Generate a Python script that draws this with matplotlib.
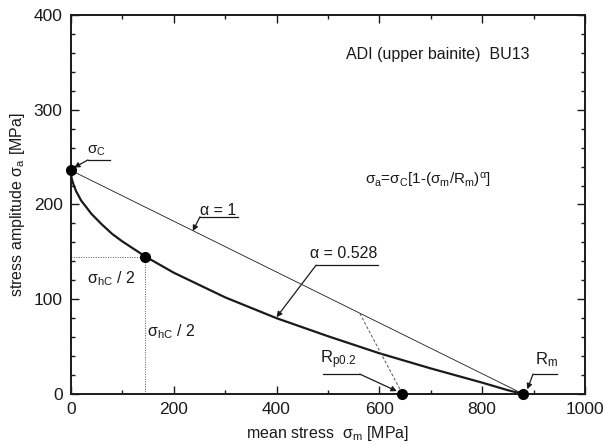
''' haigh diagram, ADI upper bainite BU13 '''
import matplotlib
matplotlib.use('Agg')
import matplotlib.pyplot as plt
from matplotlib.ticker import MultipleLocator

plt.rcParams['font.family'] = ['Liberation Sans', 'DejaVu Sans']
plt.rcParams['mathtext.fontset'] = 'custom'
plt.rcParams['mathtext.rm'] = 'Liberation Sans'
plt.rcParams['mathtext.it'] = 'Liberation Sans:italic'
plt.rcParams['mathtext.sf'] = 'Liberation Sans'

# values
sigma_c = 236          # fatigue strength, fully reversed
r_m = 880              # tensile strength
r_p02 = 645            # yield strength
sigma_hc2 = 145        # pulsating point (sigma_m = sigma_a)
alpha = 0.528

# alpha = 0.528 curve, read point by point
curve_m = [0, 1, 2, 5, 10, 20, 40, 60, 80, 100, 145, 200, 250, 300,
           400, 500, 600, 700, 800, 850, 880]
curve_a = [236, 229, 226, 221, 214, 204, 190, 179, 169, 161, 145, 128,
           115, 102, 80, 61, 43, 27, 12, 4, 0]

# alpha = 1 straight line (Goodman)
line_m = [0, r_m]
line_a = [sigma_c, 0]

# point on the straight line where the dashed yield line starts
yield_m = [562, r_p02]
yield_a = [85, 0]

INK = '#1a1a1a'
SIG = r'$\mathrm{σ}'


def note(ax, text, xy_text, line_x, line_y, tip, size=11, end=0):
    ''' label with an underline and an arrow from the underline to tip '''
    ax.text(xy_text[0], xy_text[1], text, ha='center', va='center',
            fontsize=size, color=INK)
    ax.plot(line_x, [line_y, line_y], color=INK, lw=0.9)
    ax.annotate('', xy=tip, xytext=(line_x[end], line_y),
                arrowprops=dict(arrowstyle='-|>', color=INK, lw=0.9,
                                mutation_scale=8, shrinkA=0, shrinkB=0))


def main():
    ''' entry point '''
    fig = plt.figure(figsize=(6.03, 4.46), dpi=100)
    ax = fig.add_axes([0.1177, 0.1166, 0.8523, 0.8498])

    ax.plot(line_m, line_a, color=INK, lw=0.6)
    ax.plot(curve_m, curve_a, color=INK, lw=1.6)
    ax.plot(yield_m, yield_a, color='#555555', lw=0.7, ls=(0, (3, 2)))

    # dotted guides to the pulsating point
    ax.plot([0, sigma_hc2], [sigma_hc2, sigma_hc2], color='#555555',
            lw=0.7, ls=(0, (1, 1.5)))
    ax.plot([sigma_hc2, sigma_hc2], [0, sigma_hc2], color='#555555',
            lw=0.7, ls=(0, (1, 1.5)))

    ax.plot([0, sigma_hc2, r_p02, r_m], [sigma_c, sigma_hc2, 0, 0],
            'o', color='black', ms=7, clip_on=False, zorder=5)

    ax.set_xlim(0, 1000)
    ax.set_ylim(0, 400)
    ax.xaxis.set_major_locator(MultipleLocator(200))
    ax.xaxis.set_minor_locator(MultipleLocator(100))
    ax.yaxis.set_major_locator(MultipleLocator(100))
    ax.yaxis.set_minor_locator(MultipleLocator(20))
    ax.tick_params(which='both', direction='in', top=True, right=True,
                   color=INK, width=1.0, labelsize=12.5, labelcolor=INK)
    ax.tick_params(which='major', length=6, pad=6)
    ax.tick_params(which='minor', length=3)
    for sp in ax.spines.values():
        sp.set_linewidth(1.4)
        sp.set_color(INK)

    ax.set_xlabel('mean stress  ' + SIG + r'_\mathrm{m}$ [MPa]',
                  fontsize=11.5, color=INK, labelpad=5)
    ax.set_ylabel('stress amplitude ' + SIG + r'_\mathrm{a}$ [MPa]',
                  fontsize=11.5, color=INK, labelpad=5)

    ax.text(714, 358, 'ADI (upper bainite)  BU13', ha='center',
            va='center', fontsize=11.5, color=INK)
    ax.text(695, 225,
            SIG + r'_\mathrm{a}$=' + SIG + r'_\mathrm{C}$[1-(' + SIG
            + r'_\mathrm{m}$/R$_\mathrm{m}$)$^\mathrm{α}$]',
            ha='center', va='center', fontsize=11, color=INK)

    note(ax, SIG + r'_\mathrm{C}$', (50, 257), [33, 76], 247, (6, 239))
    note(ax, 'α = 1', (286, 194), [251, 325], 187, (237, 172), size=11.5)
    note(ax, 'α = 0.528', (531, 148), [477, 597], 136, (400, 81),
         size=11.5)
    note(ax, r'R$_\mathrm{p0.2}$', (519, 36), [490, 562], 21, (634, 3),
         size=12, end=1)
    note(ax, r'R$_\mathrm{m}$', (926, 36), [899, 946], 21, (888, 5),
         size=12)

    ax.text(78, 122, SIG + r'_\mathrm{hC}$ / 2', ha='center', va='center',
            fontsize=11.5, color=INK)
    ax.text(195, 66, SIG + r'_\mathrm{hC}$ / 2', ha='center', va='center',
            fontsize=11.5, color=INK)

    fig.savefig('out.png', dpi=100)


if __name__ == '__main__':
    main()
